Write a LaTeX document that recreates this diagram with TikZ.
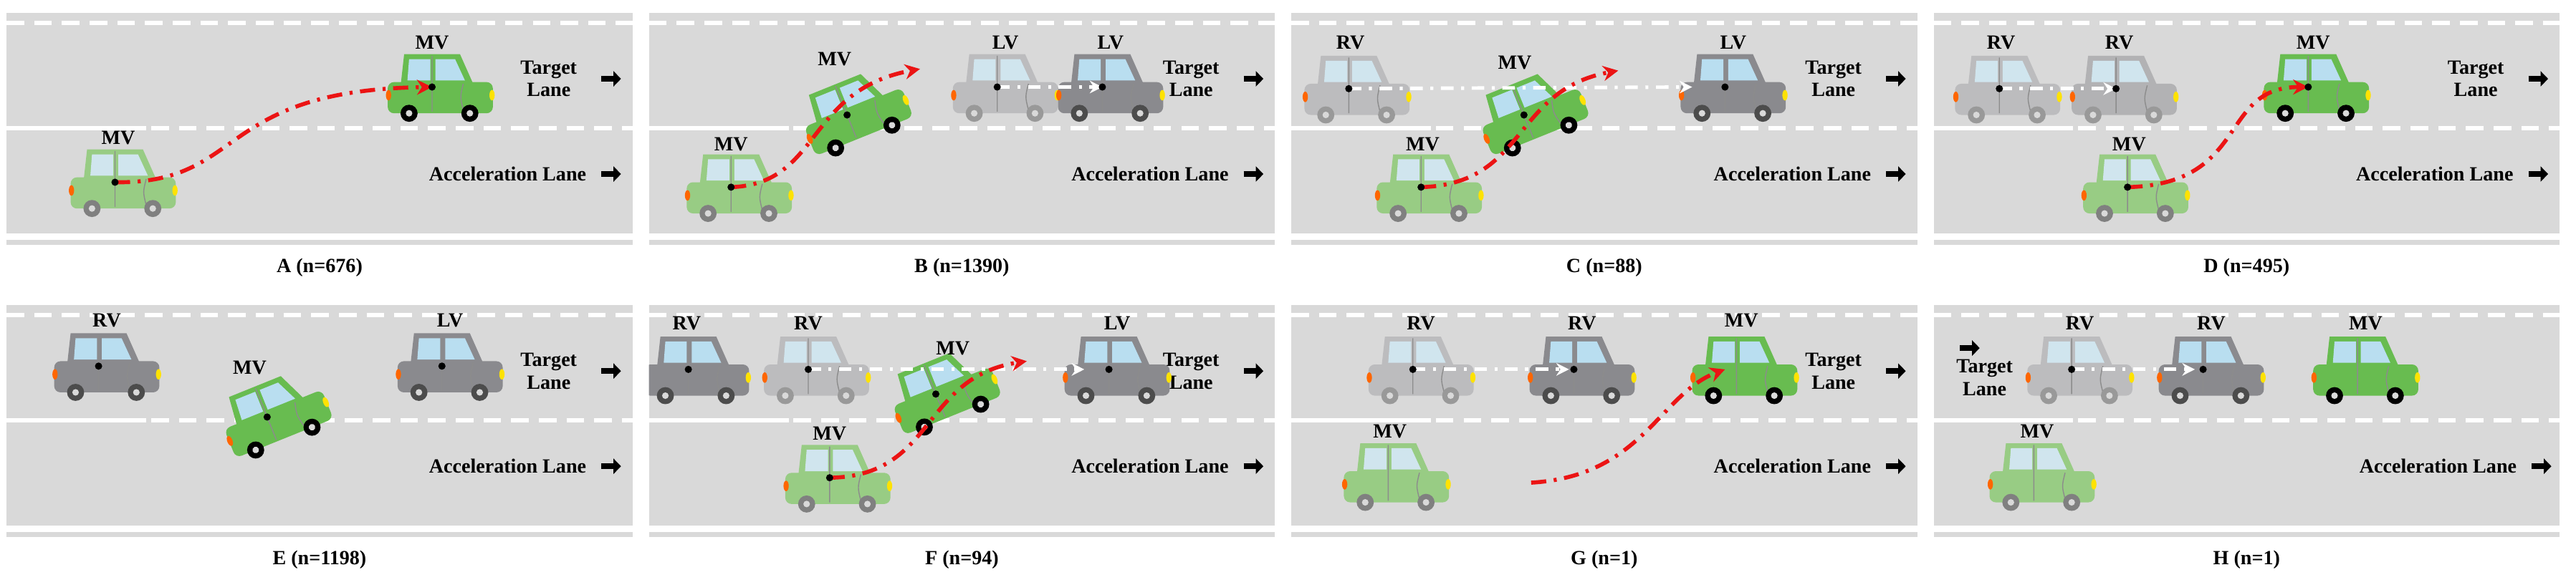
\documentclass[tikz,border=0pt]{standalone}
\usepackage{fontspec}
\setmainfont{Liberation Serif}
\usetikzlibrary{arrows.meta}
\definecolor{road}{RGB}{217,217,217}
\definecolor{gB}{RGB}{104,188,80}
\definecolor{gF}{RGB}{152,204,132}
\definecolor{kB}{RGB}{138,138,142}
\definecolor{kF}{RGB}{188,188,190}
\definecolor{wB}{RGB}{185,222,240}
\definecolor{wF}{RGB}{208,229,238}
\definecolor{tr}{RGB}{235,20,20}
\tikzset{
 lbl/.style={font=\bfseries\fontsize{8}{9}\selectfont, inner sep=0pt},
 captxt/.style={font=\bfseries\fontsize{8}{9}\selectfont},
 traj/.style={tr, line width=1.6pt, dash pattern=on 6pt off 3pt on 1.2pt off 3pt, -{Stealth[length=6pt,width=6pt]}},
 wtraj/.style={white, line width=1.4pt, dash pattern=on 5pt off 3pt on 1.2pt off 3pt, -{Stealth[length=5pt,width=5pt]}},
 larr/.style={-{Triangle[length=3pt,width=6pt]}, line width=2.2pt, black},
}
% \mycar{x}{y}{angle}{body}{window}{wheel}{name}
\newcommand\mycar[7]{%
 \begin{scope}[shift={(#1,#2)}, rotate=#3]
  \fill[#4] (-24,-4) -- (-22,-22) -- (12,-22) -- (20,-4) -- cycle;
  \fill[#4, rounded corners=2.5] (-32,-5) rectangle (32,14);
  \fill[#5] (-20,-6) -- (-19,-19) -- (-6,-19) -- (-6,-6) -- cycle;
  \fill[#5] (-3,-6) -- (-3,-19) -- (9,-19) -- (15,-6) -- cycle;
  \draw[black!45, line width=0.4pt] (-5,-21) -- (-5,13) (14,-4) .. controls (12,4) .. (14,12);
  \fill[yellow!85!orange] (31.5,3) ellipse (1.6 and 3.2);
  \fill[orange!80!red] (-31.5,3) ellipse (1.6 and 3.2);
  \fill[#6] (-19,14) circle (5.2) (18,14) circle (5.2);
  \fill[white!85!black] (-19,14) circle (2) (18,14) circle (2);
  \coordinate (#7) at (-5,-2);
 \end{scope}}
\newcommand\dotat[1]{\fill[black] (#1) circle (2.2);}
% \myroad{x0}{ytop}{label}
\newcommand\myroad[3]{%
 \begin{scope}[shift={(#1,#2)}]
  \fill[road] (0,0) rectangle (381,134);
  \draw[white, line width=1.6pt, dash pattern=on 7pt off 4pt] (0,6) -- (381,6);
  \draw[white, line width=1.8pt] (0,70) -- (85,70);
  \draw[white, line width=1.6pt, dash pattern=on 7pt off 4pt] (88,70) -- (381,70);
  \fill[road] (0,138) rectangle (381,141);
  \node[captxt] at (190.5,155) {#3};
 \end{scope}}
\newcommand\lanes[2]{%
 \node[lbl, align=center] at (#1+330,#2+48) {Target\\Lane};
 \draw[larr] (#1+362,#2+48) -- (#1+374,#2+48);
 \node[lbl] at (#1+305,#2+106) {Acceleration Lane};
 \draw[larr] (#1+362,#2+106) -- (#1+374,#2+106);}
\begin{document}
\begin{tikzpicture}[x=0.02293cm, y=-0.02293cm]
\useasboundingbox (0,0) rectangle (1568,356.3);
\fill[white] (0,0) rectangle (1568,356.3);
\myroad{4}{8}{A (n=676)}
\myroad{395}{8}{B (n=1390)}
\myroad{786}{8}{C (n=88)}
\myroad{1177}{8}{D (n=495)}
\myroad{4}{186}{E (n=1198)}
\myroad{395}{186}{F (n=94)}
\myroad{786}{186}{G (n=1)}
\myroad{1177}{186}{H (n=1)}
% A
\lanes{4}{0}
\mycar{75}{113}{0}{gF}{wF}{gray}{a1}
\mycar{268}{55}{0}{gB}{wB}{black}{a2}
\node[lbl] at (72,84) {MV}; \node[lbl] at (263,26) {MV};
\draw[traj] (a1) .. controls (150,112) and (130,55) .. (a2);
\dotat{a1}\dotat{a2}
% B
\lanes{395}{0}
\mycar{450}{116}{0}{gF}{wF}{gray}{b1}
\mycar{612}{55}{0}{kF}{wF}{gray!80}{b3}
\mycar{676}{55}{0}{kB}{wB}{black!70}{b4}
\mycar{521}{70}{22}{gB}{wB}{black}{b2}
\node[lbl] at (445,88) {MV}; \node[lbl] at (508,36) {MV};
\node[lbl] at (612,26) {LV}; \node[lbl] at (676,26) {LV};
\coordinate (b5) at (560,42);
\draw[traj] (b1) .. controls (500,112) and (490,55) .. (b5);
\draw[wtraj] (b3) -- (b4);
\dotat{b1}\dotat{b2}\dotat{b3}\dotat{b4}
% C
\lanes{786}{0}
\mycar{826}{56}{0}{kF}{wF}{gray!80}{c1}
\mycar{870}{116}{0}{gF}{wF}{gray}{c2}
\mycar{1055}{55}{0}{kB}{wB}{black!70}{c4}
\mycar{933}{70}{22}{gB}{wB}{black}{c3}
\node[lbl] at (822,26) {RV}; \node[lbl] at (866,88) {MV};
\node[lbl] at (922,38) {MV}; \node[lbl] at (1055,26) {LV};
\coordinate (c5) at (1030,53); \coordinate (c6) at (985,43);
\draw[wtraj] (c1) -- (c5);
\draw[traj] (c2) .. controls (930,112) and (920,55) .. (c6);
\dotat{c1}\dotat{c2}\dotat{c3}\dotat{c4}
% D
\lanes{1177}{0}
\mycar{1222}{56}{0}{kF}{wF}{gray!80}{d1}
\mycar{1293}{56}{0}{kF!80!kB}{wF}{gray!80}{d2}
\mycar{1300}{116}{0}{gF}{wF}{gray}{d3}
\mycar{1410}{55}{0}{gB}{wB}{black}{d4}
\node[lbl] at (1218,26) {RV}; \node[lbl] at (1290,26) {RV};
\node[lbl] at (1296,88) {MV}; \node[lbl] at (1408,26) {MV};
\draw[wtraj] (d1) -- (d2);
\draw[traj] (d3) .. controls (1370,112) and (1350,53) .. (d4);
\dotat{d1}\dotat{d2}\dotat{d3}\dotat{d4}
% E
\lanes{4}{178}
\mycar{65}{225}{0}{kB}{wB}{black!70}{e1}
\mycar{274}{225}{0}{kB}{wB}{black!70}{e3}
\mycar{168}{254}{22}{gB}{wB}{black}{e2}
\node[lbl] at (65,195) {RV}; \node[lbl] at (152,224) {MV}; \node[lbl] at (274,195) {LV};
\dotat{e1}\dotat{e2}\dotat{e3}
% F
\lanes{395}{178}
\begin{scope}
\clip (395,186) rectangle (776,320);
\mycar{424}{227}{0}{kB}{wB}{black!70}{f1}
\end{scope}
\mycar{497}{227}{0}{kF}{wF}{gray!80}{f2}
\mycar{680}{227}{0}{kB}{wB}{black!70}{f5}
\mycar{510}{293}{0}{gF}{wF}{gray}{f4}
\mycar{575}{240}{22}{gB}{wB}{black}{f3}
\node[lbl] at (418,197) {RV}; \node[lbl] at (492,197) {RV};
\node[lbl] at (580,212) {MV}; \node[lbl] at (680,197) {LV};
\node[lbl] at (505,264) {MV};
\coordinate (f6) at (660,225); \coordinate (f7) at (625,220);
\draw[wtraj] (f2) -- (f6);
\draw[traj] (f4) .. controls (570,290) and (560,230) .. (f7);
\dotat{f1}\dotat{f2}\dotat{f3}\dotat{f4}\dotat{f5}
% G
\lanes{786}{178}
\mycar{865}{227}{0}{kF}{wF}{gray!80}{g1}
\mycar{963}{227}{0}{kB}{wB}{black!70}{g2}
\mycar{1062}{227}{0}{gB}{wB}{black}{g3}
\mycar{850}{292}{0}{gF}{wF}{gray}{g4}
\node[lbl] at (865,197) {RV}; \node[lbl] at (963,197) {RV};
\node[lbl] at (1060,195) {MV}; \node[lbl] at (846,263) {MV};
\coordinate (g5) at (932,294); \coordinate (g6) at (955,225); \coordinate (g7) at (1050,225);
\draw[wtraj] (g1) -- (g6);
\draw[traj] (g5) .. controls (1000,290) and (1010,240) .. (g7);
\dotat{g1}\dotat{g2}
% H
\draw[larr] (1193,212) -- (1205,212);
\node[lbl, align=center] at (1208,230) {Target\\Lane};
\node[lbl] at (1484,284) {Acceleration Lane};
\draw[larr] (1541,284) -- (1553,284);
\mycar{1266}{227}{0}{kF}{wF}{gray!80}{h1}
\mycar{1346}{227}{0}{kB}{wB}{black!70}{h2}
\mycar{1440}{227}{0}{gB}{wB}{black}{h3}
\mycar{1243}{292}{0}{gF}{wF}{gray}{h4}
\node[lbl] at (1266,197) {RV}; \node[lbl] at (1346,197) {RV};
\node[lbl] at (1440,197) {MV}; \node[lbl] at (1240,263) {MV};
\coordinate (h5) at (1336,225);
\draw[wtraj] (h1) -- (h5);
\dotat{h1}\dotat{h2}
\end{tikzpicture}
\end{document}
